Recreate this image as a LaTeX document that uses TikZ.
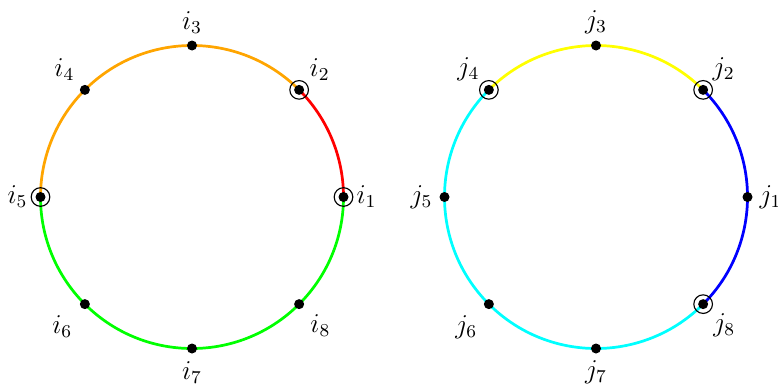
\documentclass[tikz,border=0pt]{standalone}
\usetikzlibrary{calc}
\definecolor{myorange}{RGB}{255,165,0}
\definecolor{mygreen}{RGB}{0,255,0}
\definecolor{mycyan}{RGB}{0,255,255}
\definecolor{myyellow}{RGB}{255,255,0}
\definecolor{myblue}{RGB}{0,0,255}
\definecolor{myred}{RGB}{255,0,0}
\tikzset{
  arcline/.style={line width=1.2pt},
  dotmark/.style={circle,fill=black,inner sep=0pt,minimum size=4.4pt},
  ringmark/.style={circle,draw=black,line width=0.5pt,inner sep=0pt,minimum size=8.2pt},
  lbl/.style={inner sep=0pt,font=\large}
}
\begin{document}
\begin{tikzpicture}[x=0.44pt,y=0.44pt]
\useasboundingbox (0,0) rectangle (778,385);
\def\R{151.5}
\coordinate (cl) at (192,188);
\coordinate (cr) at (596,188);
\foreach \k/\a in {1/0,2/45,3/90,4/135,5/180,6/225,7/270,8/315}{
  \coordinate (i\k) at ($(cl)+(\a:\R)$);
  \coordinate (j\k) at ($(cr)+(\a:\R)$);
}
% left arcs
\draw[arcline,myred] (i1) arc[start angle=0,end angle=45,radius=\R];
\draw[arcline,myorange] (i2) arc[start angle=45,end angle=180,radius=\R];
\draw[arcline,mygreen] (i5) arc[start angle=180,end angle=360,radius=\R];
% right arcs
\draw[arcline,myyellow] (j2) arc[start angle=45,end angle=135,radius=\R];
\draw[arcline,mycyan] (j4) arc[start angle=135,end angle=315,radius=\R];
\draw[arcline,myblue] (j8) arc[start angle=-45,end angle=45,radius=\R];
% dots and labels
\foreach \k/\a/\d in {1/0/23,2/45/29,3/90/23,4/135/29,5/180/23,6/225/32,7/270/24,8/315/30}{
  \node[dotmark] (di\k) at (i\k) {};
  \node[dotmark] (dj\k) at (j\k) {};
  \node[lbl] (li\k) at ($(i\k)+(\a:\d)$) {$i_\k$};
  \node[lbl] (lj\k) at ($(j\k)+(\a:\d)$) {$j_\k$};
}
\foreach \n in {i1,i2,i5,j2,j4,j8}{
  \node[ringmark] (r\n) at (\n) {};
}
\end{tikzpicture}
\end{document}
